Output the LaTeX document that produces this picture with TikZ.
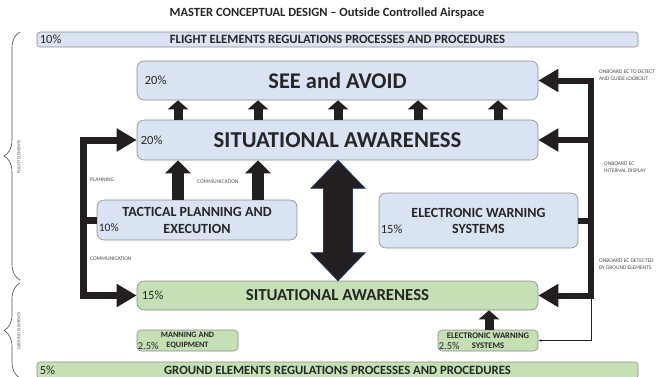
\documentclass[tikz,border=0pt]{standalone}
\usepackage{fontspec}
\setmainfont{Carlito}
\usetikzlibrary{arrows.meta,decorations.pathreplacing,calc}

\begin{document}
\begin{tikzpicture}[x=1pt, y=-1pt,
  box/.style={draw=black!45, line width=0.6pt, rounded corners=7pt, inner sep=0pt, text=black!85, align=center},
  flight/.style={box, fill=flightb},
  ground/.style={box, fill=groundg},
  pct/.style={anchor=west, inner sep=0pt, text=black!85, font=\fontsize{12.5}{12.5}\selectfont},
  tiny/.style={anchor=west, inner sep=0pt, align=left, text=black!70, font=\fontsize{5.5}{7}\selectfont},
  fat/.style={draw=arrowd, line width=7pt, -{Triangle[width=22pt,length=20pt]}},
  upbig/.style={draw=arrowd, line width=12pt, -{Triangle[width=25pt,length=13pt]}},
  upsmall/.style={draw=arrowd, line width=9pt, -{Triangle[width=20pt,length=9pt]}}]

\definecolor{flightb}{HTML}{DAE3F3}
\definecolor{groundg}{HTML}{C5E0B4}
\definecolor{arrowd}{HTML}{231F20}
\definecolor{navy}{HTML}{1F3864}

\useasboundingbox (0,0) rectangle (656,376);

\node[font=\fontsize{12.5}{13}\selectfont\bfseries, text=black!85] (title) at (327,13) {MASTER CONCEPTUAL DESIGN -- Outside Controlled Airspace};

% boxes
\node[flight, rounded corners=3pt, minimum width=601pt, minimum height=15pt, font=\fontsize{12.7}{13}\selectfont\bfseries] (fbar) at (337.5,39.5) {FLIGHT ELEMENTS REGULATIONS PROCESSES AND PROCEDURES};
\node[flight, minimum width=401pt, minimum height=39pt, font=\fontsize{22.4}{23}\selectfont\bfseries] (see) at (337.5,80.5) {SEE and AVOID};
\node[flight, minimum width=401pt, minimum height=40pt, font=\fontsize{22.7}{23}\selectfont\bfseries] (saTop) at (337.5,140) {SITUATIONAL AWARENESS};
\node[flight, minimum width=200pt, minimum height=40pt, font=\fontsize{14}{17}\selectfont\bfseries] (tact) at (197,220) {TACTICAL PLANNING AND\\EXECUTION};
\node[flight, minimum width=199pt, minimum height=55pt, font=\fontsize{14}{16}\selectfont\bfseries] (ews) at (478.5,220.5) {ELECTRONIC WARNING\\SYSTEMS};
\node[ground, minimum width=401pt, minimum height=29pt, font=\fontsize{16.8}{17}\selectfont\bfseries] (saGnd) at (337.5,295.5) {SITUATIONAL AWARENESS};
\node[ground, rounded corners=4pt, minimum width=101pt, minimum height=21pt, font=\fontsize{8.2}{9.5}\selectfont\bfseries] (mann) at (187.5,340.5) {MANNING AND\\EQUIPMENT};
\node[ground, rounded corners=4pt, minimum width=100pt, minimum height=21pt, font=\fontsize{8.6}{9.5}\selectfont\bfseries] (ewsSmall) at (488,340.5) {ELECTRONIC WARNING\\SYSTEMS};
\node[ground, rounded corners=3pt, minimum width=601pt, minimum height=16pt, font=\fontsize{12.7}{13}\selectfont\bfseries] (gbar) at (337.5,370) {GROUND ELEMENTS REGULATIONS PROCESSES AND PROCEDURES};

% percentages
\node[pct] (pFbar) at ($(fbar.west)+(3,0)$) {10\%};
\node[pct] (pSee) at ($(see.west)+(8,0)$) {20\%};
\node[pct] (pSaTop) at ($(saTop.west)+(4,0)$) {20\%};
\node[pct, font=\fontsize{11.5}{11.5}\selectfont] (pTact) at ($(tact.west)+(2,8)$) {10\%};
\node[pct] (pEws) at ($(ews.west)+(2,9)$) {15\%};
\node[pct] (pSaGnd) at ($(saGnd.west)+(5,0)$) {15\%};
\node[pct, font=\fontsize{10.5}{10.5}\selectfont] (pMann) at ($(mann.west)+(1,5.5)$) {2.5\%};
\node[pct, font=\fontsize{10.5}{10.5}\selectfont] (pEwsSmall) at ($(ewsSmall.west)+(1,5.5)$) {2.5\%};
\node[pct] (pGbar) at ($(gbar.west)+(3,0)$) {5\%};

% arrows
\foreach \x in {178,258,...,498}
  \draw[upsmall] (saTop.north -| \x,0) -- (see.south -| \x,0);
\foreach \x in {178,258}
  \draw[upbig] (tact.north -| \x,0) -- (saTop.south -| \x,0);
\draw[upsmall] (ewsSmall.north -| 489,0) -- (saGnd.south -| 489,0);

\draw[fat] (tact.west) -- ++(-13,0) coordinate (lbend) |- (saTop.west);
\draw[fat] (lbend) |- (saGnd.west);

\draw[fat, line width=6pt] (ews.east) -- ++(13,0) coordinate (rbend) |- (see.east);
\draw[fat, line width=6pt] (rbend |- saTop.east) -- (saTop.east);
\draw[fat, line width=6pt] (rbend) |- (saGnd.east);
\draw[draw=arrowd, line width=0.6pt, -{Latex[length=3pt,width=2.5pt]}] (rbend |- saGnd.east) |- (ewsSmall.east);

\coordinate (bt) at (saTop.south -| 338,0);
\coordinate (bb) at (saGnd.north -| 338,0);
\filldraw[fill=arrowd, draw=navy, line width=0.8pt] (bt) -- ++(27,28) -- ++(-12.5,0) -- ($(bb)+(14.5,-28)$) -- ++(12.5,0) -- (bb) -- ++(-27,-28) -- ++(12.5,0) -- ($(bt)+(-14.5,28)$) -- ++(-12.5,0) -- cycle;

% labels
\node[tiny] (planning) at (90,180) {PLANNING};
\node[tiny] (commTop) at (197,182) {COMMUNICATION};
\node[tiny] (commLow) at (90,259) {COMMUNICATION};
\node[tiny] (lookout) at (599,75) {ONBOARD EC TO DETECT\\AND GUIDE LOOKOUT};
\node[tiny] (display) at (604,167) {ONBOARD EC\\INTERNAL DISPLAY};
\node[tiny] (detected) at (599,264) {ONBOARD EC DETECTED\\BY GROUND ELEMENTS};

% braces
\draw[black!70, line width=0.6pt, decorate, decoration={brace, amplitude=16pt}] (20,280) -- (20,32);
\draw[black!70, line width=0.6pt, decorate, decoration={brace, amplitude=16pt}] (20,378) -- (20,283);
\node[tiny, anchor=center, rotate=90, font=\fontsize{4.5}{5}\selectfont] (flightEl) at (19,157) {FLIGHT ELEMENTS};
\node[tiny, anchor=center, rotate=90, font=\fontsize{4.5}{5}\selectfont] (groundEl) at (19,331) {GROUND ELEMENTS};

\end{tikzpicture}
\end{document}
